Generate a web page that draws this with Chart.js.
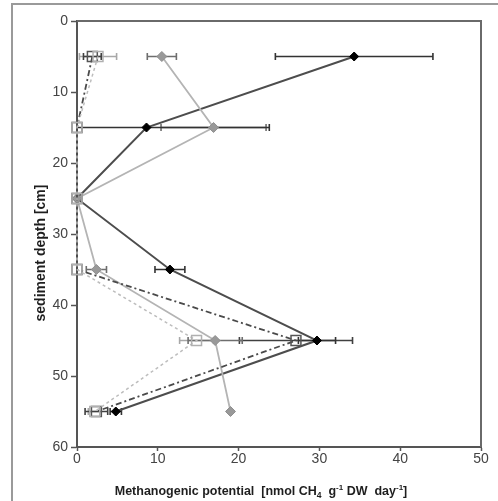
<!DOCTYPE html>
<html>
<head>
<meta charset="utf-8">
<script src="https://cdn.jsdelivr.net/npm/chart.js@4/dist/chart.umd.min.js"></script>
<style>
  html, body { margin: 0; padding: 0; background: #fff; }
  canvas { display: block; }
</style>
</head>
<body>
<canvas id="depth-chart" width="498" height="501"></canvas>
<script>
// sampling depths (cm) and methanogenic potential per profile
const depths = [5, 15, 25, 35, 45, 55];

const profile1 = [34.3, 8.6, 0, 11.5, 29.7, 4.8];
const profile1Err = [9.75, 15.2, 0, 1.85, 2.3, 0.7];

const profile2 = [10.5, 16.9, 0, 2.4, 17.1, 19.0];
const profile2Err = [1.8, 6.5, 0, 1.25, 3.35, 0];

const profile3 = [1.9, 0, 0, 0, 27.1, 2.4];
const profile3Err = [1.1, 0, 0, 0, 7.0, 1.4];

const profile4 = [2.6, 0, 0, 0, 14.8, 2.2];
const profile4Err = [2.3, 0, 0, 0, 2.1, 0.8];

const xTicks = [0, 10, 20, 30, 40, 50];
const yTicks = [0, 10, 20, 30, 40, 50, 60];

const FONT = "'Liberation Sans', Arial, sans-serif";

function points(values) {
  return depths.map((d, i) => ({ x: values[i], y: d }));
}

// horizontal error bars with caps, drawn under the markers
const errorBars = {
  id: "errorBars",
  beforeDatasetsDraw(chart) {
    const { ctx, chartArea, scales } = chart;
    ctx.save();
    ctx.beginPath();
    ctx.rect(chartArea.left, chartArea.top - 2, chartArea.width, chartArea.height + 4);
    ctx.clip();
    chart.data.datasets.forEach((ds) => {
      if (!ds.errors) return;
      ctx.strokeStyle = ds.errorColor;
      ctx.lineWidth = 1.6;
      ds.data.forEach((p, i) => {
        const e = ds.errors[i];
        if (!e) return;
        const py = scales.y.getPixelForValue(p.y);
        const x0 = scales.x.getPixelForValue(p.x - e);
        const x1 = scales.x.getPixelForValue(p.x + e);
        ctx.beginPath();
        ctx.moveTo(x0, py);
        ctx.lineTo(x1, py);
        ctx.moveTo(x0, py - 3.5);
        ctx.lineTo(x0, py + 3.5);
        ctx.moveTo(x1, py - 3.5);
        ctx.lineTo(x1, py + 3.5);
        ctx.stroke();
      });
    });
    ctx.restore();
  },
};

// outer frame, plot frame and axis titles
const decorations = {
  id: "decorations",
  afterDraw(chart) {
    const { ctx, chartArea } = chart;
    ctx.save();

    ctx.strokeStyle = "#9a9a9a";
    ctx.lineWidth = 2;
    ctx.strokeRect(12, 4, 600, 600);

    ctx.strokeStyle = "#6a6a6a";
    ctx.lineWidth = 2;
    ctx.beginPath();
    ctx.moveTo(chartArea.left, chartArea.top);
    ctx.lineTo(chartArea.right, chartArea.top);
    ctx.lineTo(chartArea.right, chartArea.bottom);
    ctx.stroke();

    ctx.fillStyle = "#1e1e1e";
    ctx.textBaseline = "alphabetic";

    // y title
    ctx.save();
    ctx.translate(45, 253);
    ctx.rotate(-Math.PI / 2);
    ctx.font = "bold 14px " + FONT;
    ctx.textAlign = "center";
    ctx.fillText("sediment depth [cm]", 0, 0);
    ctx.restore();

    // x title with sub/superscripts
    const parts = [
      { t: "Methanogenic potential  [nmol CH", s: 12.5, dy: 0 },
      { t: "4", s: 8.5, dy: 3 },
      { t: "  g", s: 12.5, dy: 0 },
      { t: "-1", s: 8, dy: -5 },
      { t: " DW  day", s: 12.5, dy: 0 },
      { t: "-1", s: 8, dy: -5 },
      { t: "]", s: 12.5, dy: 0 },
    ];
    ctx.textAlign = "left";
    let total = 0;
    parts.forEach((p) => {
      ctx.font = "bold " + p.s + "px " + FONT;
      p.w = ctx.measureText(p.t).width;
      total += p.w;
    });
    let xPos = 261 - total / 2;
    parts.forEach((p) => {
      ctx.font = "bold " + p.s + "px " + FONT;
      ctx.fillText(p.t, xPos, 495 + p.dy);
      xPos += p.w;
    });

    ctx.restore();
  },
};

const axisColor = "#555";
const tickFont = { family: FONT, size: 14 };

new Chart(document.getElementById("depth-chart"), {
  type: "scatter",
  data: {
    datasets: [
      {
        data: points(profile4),
        errors: profile4Err,
        errorColor: "#a8a8a8",
        showLine: true,
        borderColor: "#bdbdbd",
        borderWidth: 1.5,
        borderDash: [3, 3],
        pointStyle: "rect",
        pointRadius: 7,
        pointBorderWidth: 1.5,
        pointBorderColor: "#b0b0b0",
        pointBackgroundColor: "rgba(255,255,255,0)",
        clip: false,
      },
      {
        data: points(profile3),
        errors: profile3Err,
        errorColor: "#404040",
        showLine: true,
        borderColor: "#4a4a4a",
        borderWidth: 1.8,
        borderDash: [6, 3, 2, 3],
        pointStyle: "rect",
        pointRadius: 7,
        pointBorderWidth: 1.5,
        pointBorderColor: "#555",
        pointBackgroundColor: "rgba(255,255,255,0)",
        clip: false,
      },
      {
        data: points(profile2),
        errors: profile2Err,
        errorColor: "#6e6e6e",
        showLine: true,
        borderColor: "#b4b4b4",
        borderWidth: 1.8,
        pointStyle: "rectRot",
        pointRadius: 5,
        pointBorderWidth: 1,
        pointBorderColor: "#8f8f8f",
        pointBackgroundColor: "#999",
        clip: false,
      },
      {
        data: points(profile1),
        errors: profile1Err,
        errorColor: "#333",
        showLine: true,
        borderColor: "#4d4d4d",
        borderWidth: 2,
        pointStyle: "rectRot",
        pointRadius: 4.5,
        pointBorderWidth: 1,
        pointBorderColor: "#000",
        pointBackgroundColor: "#000",
        clip: false,
      },
    ],
  },
  options: {
    responsive: false,
    animation: false,
    layout: { padding: { top: 21, right: 17, left: 0, bottom: 0 } },
    plugins: {
      legend: { display: false },
      tooltip: { enabled: false },
    },
    scales: {
      x: {
        type: "linear",
        min: 0,
        max: 50,
        afterBuildTicks: (axis) => {
          axis.ticks = xTicks.map((v) => ({ value: v }));
        },
        afterFit: (axis) => {
          axis.height = 54;
        },
        ticks: { color: "#444", font: tickFont, padding: 0 },
        grid: {
          drawOnChartArea: false,
          tickLength: 4,
          tickColor: axisColor,
          tickWidth: 1.5,
        },
        border: { color: axisColor, width: 2 },
      },
      y: {
        type: "linear",
        reverse: true,
        min: 0,
        max: 60,
        afterBuildTicks: (axis) => {
          axis.ticks = yTicks.map((v) => ({ value: v }));
        },
        afterFit: (axis) => {
          axis.width = 77;
        },
        ticks: { color: "#444", font: tickFont, padding: 3 },
        grid: {
          drawOnChartArea: false,
          tickLength: 6,
          tickColor: axisColor,
          tickWidth: 1.5,
        },
        border: { color: axisColor, width: 2 },
      },
    },
  },
  plugins: [errorBars, decorations],
});
</script>
</body>
</html>
